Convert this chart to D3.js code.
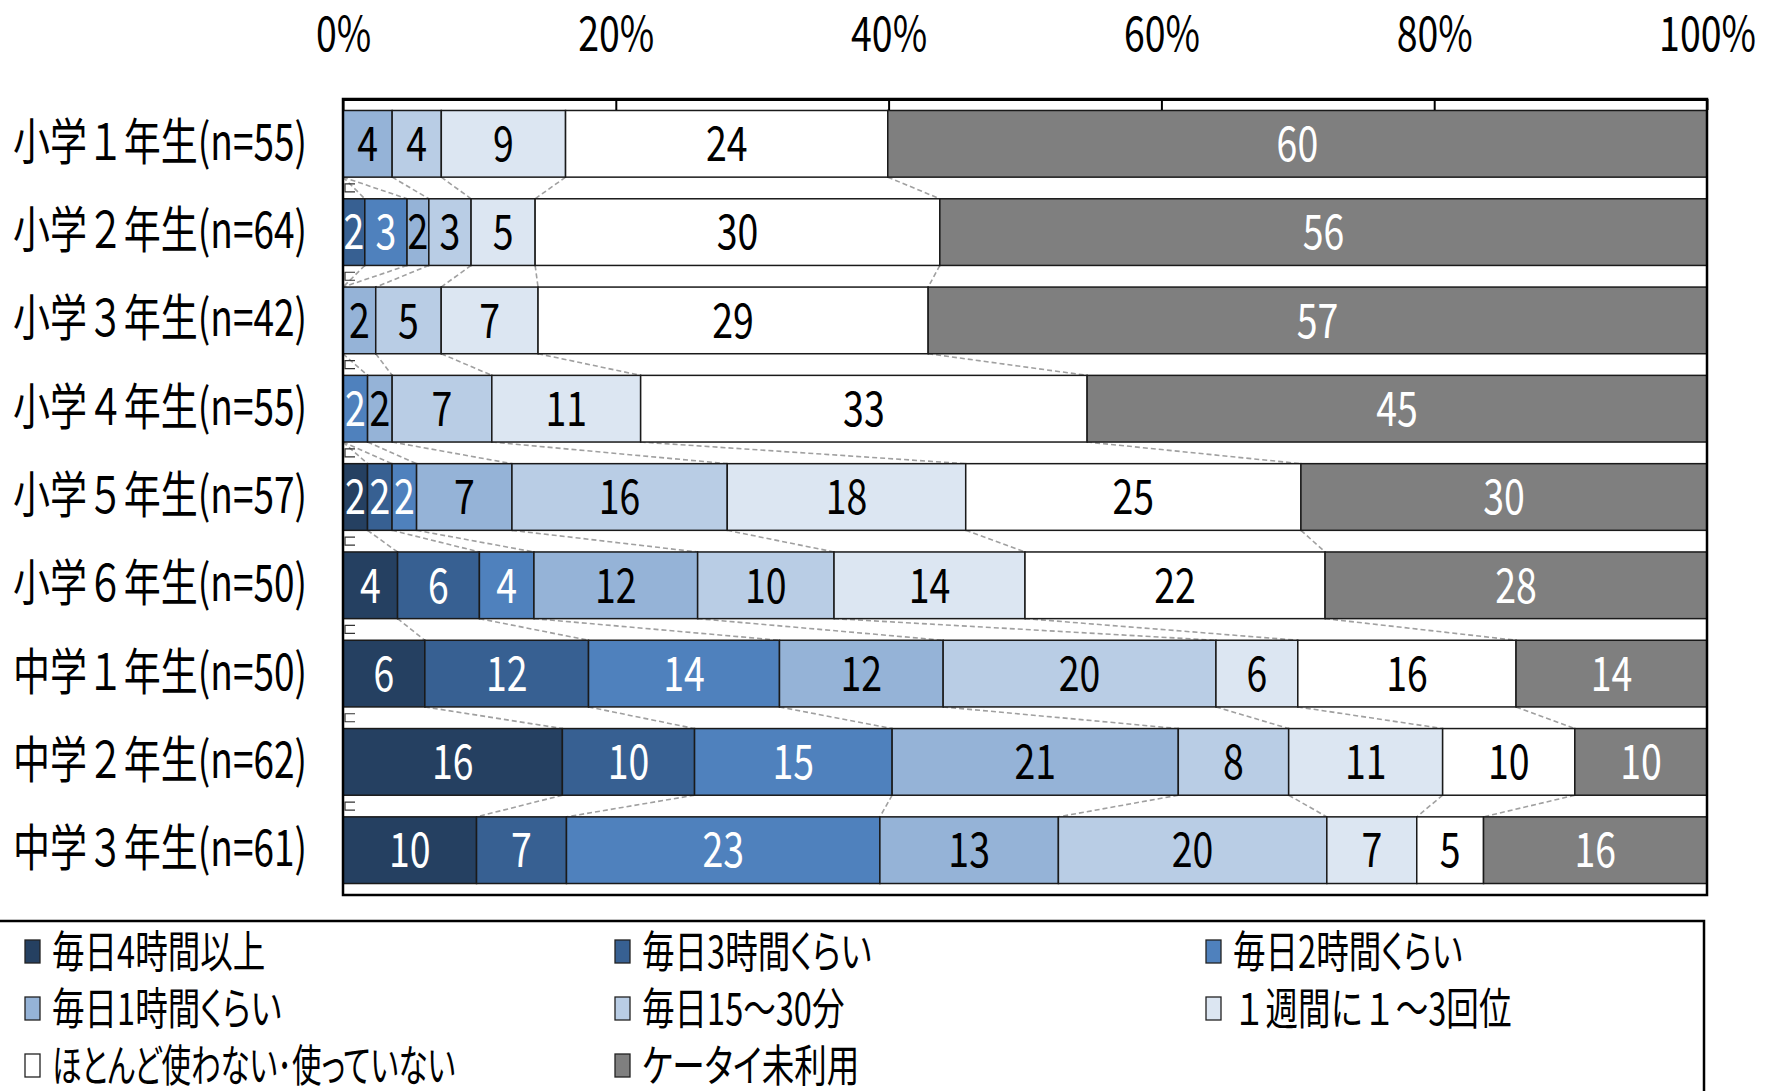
<!DOCTYPE html>
<html><head><meta charset="utf-8">
<script src="https://cdn.jsdelivr.net/npm/d3@7"></script>
<style>
html,body{margin:0;padding:0;background:#fff;}
svg{display:block;}
text{font-family:"Noto Sans CJK JP","Noto Sans",sans-serif;fill:#000;}
text.palt{font-feature-settings:"palt" 1;}
</style></head>
<body>
<svg id="chart" width="1770" height="1091"></svg>
<script>
// ---- data ----
const categories = ["小学１年生(n=55)","小学２年生(n=64)","小学３年生(n=42)","小学４年生(n=55)","小学５年生(n=57)","小学６年生(n=50)","中学１年生(n=50)","中学２年生(n=62)","中学３年生(n=61)"];
const seriesNames = ["毎日4時間以上","毎日3時間くらい","毎日2時間くらい","毎日1時間くらい","毎日15～30分","１週間に１～3回位","ほとんど使わない･使っていない","ケータイ未利用"];
const seriesColors = ["#254061","#376092","#4F81BD","#95B3D7","#B9CDE5","#DCE6F2","#FFFFFF","#7F7F7F"];
const labelColors = ["#fff","#fff","#fff","#000","#000","#000","#000","#fff"];
const s4h   = [0,   0,   0,   0,   1.8, 4,  6,  16.1, 9.8];
const s3h   = [0,   1.6, 0,   0,   1.8, 6,  12, 9.7,  6.6];
const s2h   = [0,   3.1, 0,   1.8, 1.8, 4,  14, 14.5, 23.0];
const s1h   = [3.6, 1.6, 2.4, 1.8, 7.0, 12, 12, 21.0, 13.1];
const s15   = [3.6, 3.1, 4.8, 7.3, 15.8,10, 20, 8.1,  19.7];
const sWeek = [9.1, 4.7, 7.1, 10.9,17.5,14, 6,  11.3, 6.6];
const sRare = [23.6,29.7,28.6,32.7,24.6,22, 16, 9.7,  4.9];
const sNone = [60.0,56.3,57.1,45.4,29.8,28, 14, 9.7,  16.4];
const xTicks = [0,0.2,0.4,0.6,0.8,1];

const seriesValues = [s4h,s3h,s2h,s1h,s15,sWeek,sRare,sNone];
const keys = seriesNames;
const rows = categories.map((c,i)=>{
  const o = {cat:c};
  const tot = d3.sum(seriesValues, s=>s[i]);
  keys.forEach((k,j)=>{ o[k] = seriesValues[j][i]/tot; o["_"+k] = seriesValues[j][i]; });
  return o;
});
const stacked = d3.stack().keys(keys)(rows);

// ---- layout ----
const svg = d3.select("#chart");
const L = 343, R = 1707, T = 99, B = 895;
const x = d3.scaleLinear().domain([0,1]).range([L,R]);
const y = d3.scaleBand().domain(categories).range([T,B]).paddingInner(0.245).paddingOuter(0.13);
const bw = y.bandwidth();

// series lines
const sl = svg.append("g").attr("fill","none").attr("stroke","#A0A0A0").attr("stroke-width",1.6).attr("stroke-dasharray","5,3");
stacked.forEach((s,k)=>{
  if (k === keys.length-1) return;
  for (let r=0; r<categories.length-1; r++){
    sl.append("line")
      .attr("x1", x(s[r][1])).attr("y1", y(categories[r])+bw)
      .attr("x2", x(s[r+1][1])).attr("y2", y(categories[r+1]));
  }
});

// bars
const gBars = svg.append("g");
stacked.forEach((s,k)=>{
  gBars.append("g").selectAll("rect").data(s).join("rect")
    .attr("x", d=>x(d[0])).attr("width", d=>x(d[1])-x(d[0]))
    .attr("y", d=>y(d.data.cat)).attr("height", bw)
    .attr("fill", seriesColors[k])
    .attr("stroke", d=> (d[1]-d[0])>0 ? "#1a1a1a" : "none").attr("stroke-width",1.5);
});

// data labels
const SX = 0.78;
stacked.forEach((s,k)=>{
  gBars.append("g").selectAll("text").data(s.filter(d=>d.data["_"+keys[k]]>0)).join("text")
    .attr("transform", d=>`translate(${(x(d[0])+x(d[1]))/2},${y(d.data.cat)+bw/2}) scale(${SX},1)`)
    .attr("text-anchor","middle").attr("dy","0.36em")
    .style("font-size","48px").style("fill", labelColors[k])
    .text(d=>Math.round(d.data["_"+keys[k]]));
});

// plot border
svg.append("rect").attr("x",L).attr("y",T).attr("width",R-L).attr("height",B-T)
  .attr("fill","none").attr("stroke","#000").attr("stroke-width",2.5);

// x axis (top)
const xAxis = svg.append("g").attr("transform",`translate(0,${T})`)
  .call(d3.axisTop(x).tickValues(xTicks).tickFormat(d3.format(".0%")).tickSizeInner(-11).tickSizeOuter(0).tickPadding(48));
xAxis.select(".domain").attr("stroke","#000").attr("stroke-width",3);
xAxis.selectAll(".tick line").attr("stroke","#000").attr("stroke-width",2);
xAxis.selectAll(".tick text").attr("transform","scale(0.78,1)").style("font-size","48px").attr("font-family",null);

// y axis (categories)
const SY = 0.74, PAD = 36;
const yAxis = svg.append("g").attr("transform",`translate(${L},0)`)
  .call(d3.axisLeft(y).tickSize(0).tickPadding(PAD));
yAxis.select(".domain").remove();
yAxis.selectAll(".tick text").attr("x", -PAD/SY).attr("transform",`scale(${SY},1)`).style("font-size","50px").attr("font-family",null);

// small category tick marks between bars
const step = y.step();
svg.append("g").selectAll("path").data(categories.slice(1)).join("path")
  .attr("d", c=>{ const yy = y(c) - (step-bw)/2; return `M${L+12},${yy-4}H${L+2}V${yy+4}H${L+12}`; })
  .attr("fill","none").attr("stroke","#333").attr("stroke-width",1.2);

// legend
svg.append("rect").attr("x",-3).attr("y",921).attr("width",1707).attr("height",200)
  .attr("fill","none").attr("stroke","#000").attr("stroke-width",2.5);
const colX = [25,615,1206], rowY = [952,1009,1066];
const lg = svg.append("g");
seriesNames.forEach((n,i)=>{
  const cx = colX[i%3], cy = rowY[Math.floor(i/3)];
  const g = lg.append("g").attr("transform",`translate(${cx},${cy})`);
  g.append("rect").attr("x",0).attr("y",-12).attr("width",15).attr("height",23)
    .attr("fill",seriesColors[i]).attr("stroke","#222").attr("stroke-width",1.3);
  const sc = i === 6 ? 0.67 : 0.74;
  g.append("text").attr("class", i === 5 ? null : "palt")
    .attr("transform",`translate(27,0) scale(${sc},1)`).attr("dy","0.36em")
    .style("font-size","44px").text(n);
});
</script>
</body></html>
